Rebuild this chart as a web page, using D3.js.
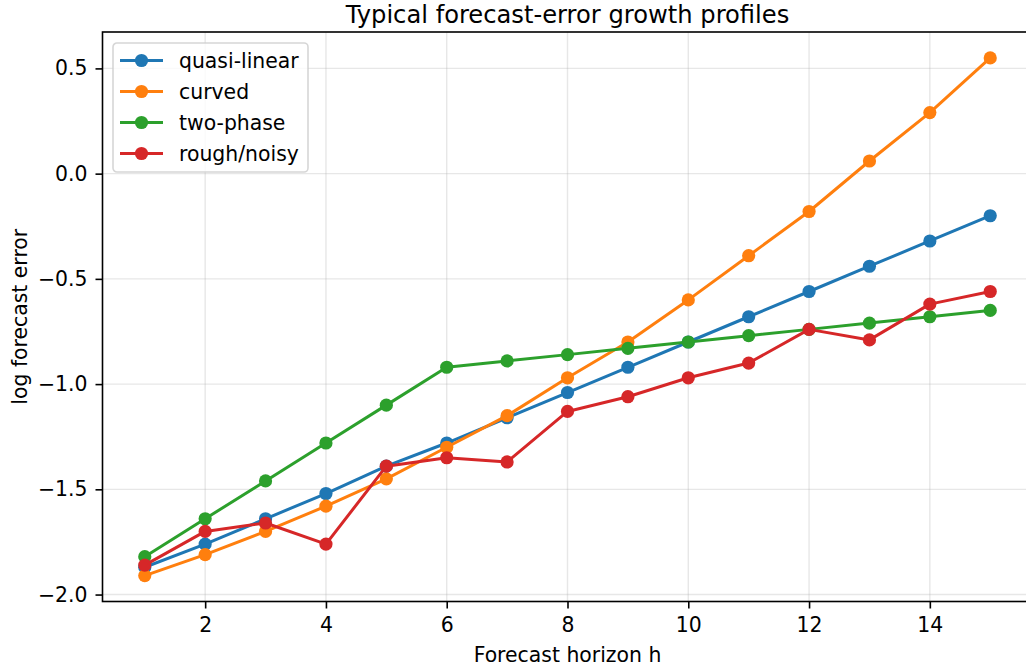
<!DOCTYPE html>
<html>
<head>
<meta charset="utf-8">
<script src="https://cdn.jsdelivr.net/npm/d3@7"></script>
<style>
  html, body { margin: 0; padding: 0; background: #fff; }
  svg { display: block; font-family: "DejaVu Sans", sans-serif; }
</style>
</head>
<body>
<svg id="chart" width="1026" height="667"></svg>
<script>
// Forecast horizons and log-error profiles
const horizons = [1, 2, 3, 4, 5, 6, 7, 8, 9, 10, 11, 12, 13, 14, 15];
const quasiLinear = [-1.87, -1.76, -1.64, -1.52, -1.39, -1.28, -1.16, -1.04, -0.92, -0.80, -0.68, -0.56, -0.44, -0.32, -0.20];
const curved      = [-1.91, -1.81, -1.70, -1.58, -1.45, -1.30, -1.15, -0.97, -0.80, -0.60, -0.39, -0.18, 0.06, 0.29, 0.55];
const twoPhase    = [-1.82, -1.64, -1.46, -1.28, -1.10, -0.92, -0.89, -0.86, -0.83, -0.80, -0.77, -0.74, -0.71, -0.68, -0.65];
const roughNoisy  = [-1.86, -1.70, -1.66, -1.76, -1.39, -1.35, -1.37, -1.13, -1.06, -0.97, -0.90, -0.74, -0.79, -0.62, -0.56];

const seriesNames = ["quasi-linear", "curved", "two-phase", "rough/noisy"];
const seriesValues = [quasiLinear, curved, twoPhase, roughNoisy];
const seriesColors = ["#1f77b4", "#ff7f0e", "#2ca02c", "#d62728"];

const xTicks = [2, 4, 6, 8, 10, 12, 14];
const yTicks = [-2.0, -1.5, -1.0, -0.5, 0.0, 0.5];

const titleText = "Typical forecast-error growth profiles";
const xLabel = "Forecast horizon h";
const yLabel = "log forecast error";

// Plot frame
const plotLeft = 102.5, plotRight = 1032.5, plotTop = 32, plotBottom = 601.5;
const labelSize = "20.4px", titleSize = "24.2px";

const svg = d3.select("#chart");

// Autoscale with 5% padding on each side
function padded(lo, hi) {
  const m = (hi - lo) * 0.05;
  return [lo - m, hi + m];
}
const allY = seriesValues.flat();
const x = d3.scaleLinear().domain(padded(d3.min(horizons), d3.max(horizons))).range([plotLeft, plotRight]);
const y = d3.scaleLinear().domain(padded(d3.min(allY), d3.max(allY))).range([plotBottom, plotTop]);

// Grid
const grid = svg.append("g").attr("stroke", "#b0b0b0").attr("stroke-opacity", 0.3).attr("stroke-width", 1.4);
grid.selectAll("line.gx").data(xTicks).join("line")
  .attr("x1", d => x(d)).attr("x2", d => x(d)).attr("y1", plotTop).attr("y2", plotBottom);
grid.selectAll("line.gy").data(yTicks).join("line")
  .attr("x1", plotLeft).attr("x2", plotRight).attr("y1", d => y(d)).attr("y2", d => y(d));

// Series lines and markers
const line = d3.line().x((d, i) => x(horizons[i])).y(d => y(d));
seriesValues.forEach((vals, k) => {
  const g = svg.append("g");
  g.append("path").datum(vals)
    .attr("d", line)
    .attr("fill", "none")
    .attr("stroke", seriesColors[k])
    .attr("stroke-width", 3)
    .attr("stroke-linejoin", "round")
    .attr("stroke-linecap", "square");
  g.selectAll("circle").data(vals).join("circle")
    .attr("cx", (d, i) => x(horizons[i]))
    .attr("cy", d => y(d))
    .attr("r", 6.6)
    .attr("fill", seriesColors[k]);
});

// Axes
const fmt = d3.format(".1f");
const xAxis = svg.append("g").attr("transform", `translate(0,${plotBottom})`)
  .call(d3.axisBottom(x).tickValues(xTicks).tickFormat(d3.format("d")).tickSize(7).tickPadding(9));
const yAxis = svg.append("g").attr("transform", `translate(${plotLeft},0)`)
  .call(d3.axisLeft(y).tickValues(yTicks).tickFormat(fmt).tickSize(7).tickPadding(8));
[xAxis, yAxis].forEach(a => {
  a.select(".domain").remove();
  a.selectAll(".tick line").attr("stroke", "#000").attr("stroke-width", 1.6);
  a.selectAll(".tick text").attr("fill", "#000").style("font-size", labelSize).style("font-family", "DejaVu Sans");
});

// Frame spines
svg.append("rect")
  .attr("x", plotLeft).attr("y", plotTop)
  .attr("width", plotRight - plotLeft).attr("height", plotBottom - plotTop)
  .attr("fill", "none").attr("stroke", "#000").attr("stroke-width", 1.6);

// Title and axis labels
svg.append("text").attr("x", (plotLeft + plotRight) / 2).attr("y", 22.5)
  .attr("text-anchor", "middle").style("font-size", titleSize).text(titleText);
svg.append("text").attr("x", (plotLeft + plotRight) / 2).attr("y", 662)
  .attr("text-anchor", "middle").style("font-size", labelSize).text(xLabel);
svg.append("text")
  .attr("transform", `translate(27,${(plotTop + plotBottom) / 2}) rotate(-90)`)
  .attr("text-anchor", "middle").style("font-size", labelSize).text(yLabel);

// Legend
const lg = svg.append("g").attr("transform", "translate(113,43)");
lg.append("rect").attr("width", 195).attr("height", 129).attr("rx", 4)
  .attr("fill", "#fff").attr("fill-opacity", 0.8)
  .attr("stroke", "#cccccc").attr("stroke-opacity", 0.8).attr("stroke-width", 1.6);
seriesNames.forEach((name, k) => {
  const ry = 17.5 + k * 31;
  lg.append("line").attr("x1", 7).attr("x2", 50).attr("y1", ry).attr("y2", ry)
    .attr("stroke", seriesColors[k]).attr("stroke-width", 3);
  lg.append("circle").attr("cx", 28.5).attr("cy", ry).attr("r", 6.6).attr("fill", seriesColors[k]);
  lg.append("text").attr("x", 66).attr("y", ry).attr("dy", "0.35em")
    .style("font-size", labelSize).text(name);
});
</script>
</body>
</html>
